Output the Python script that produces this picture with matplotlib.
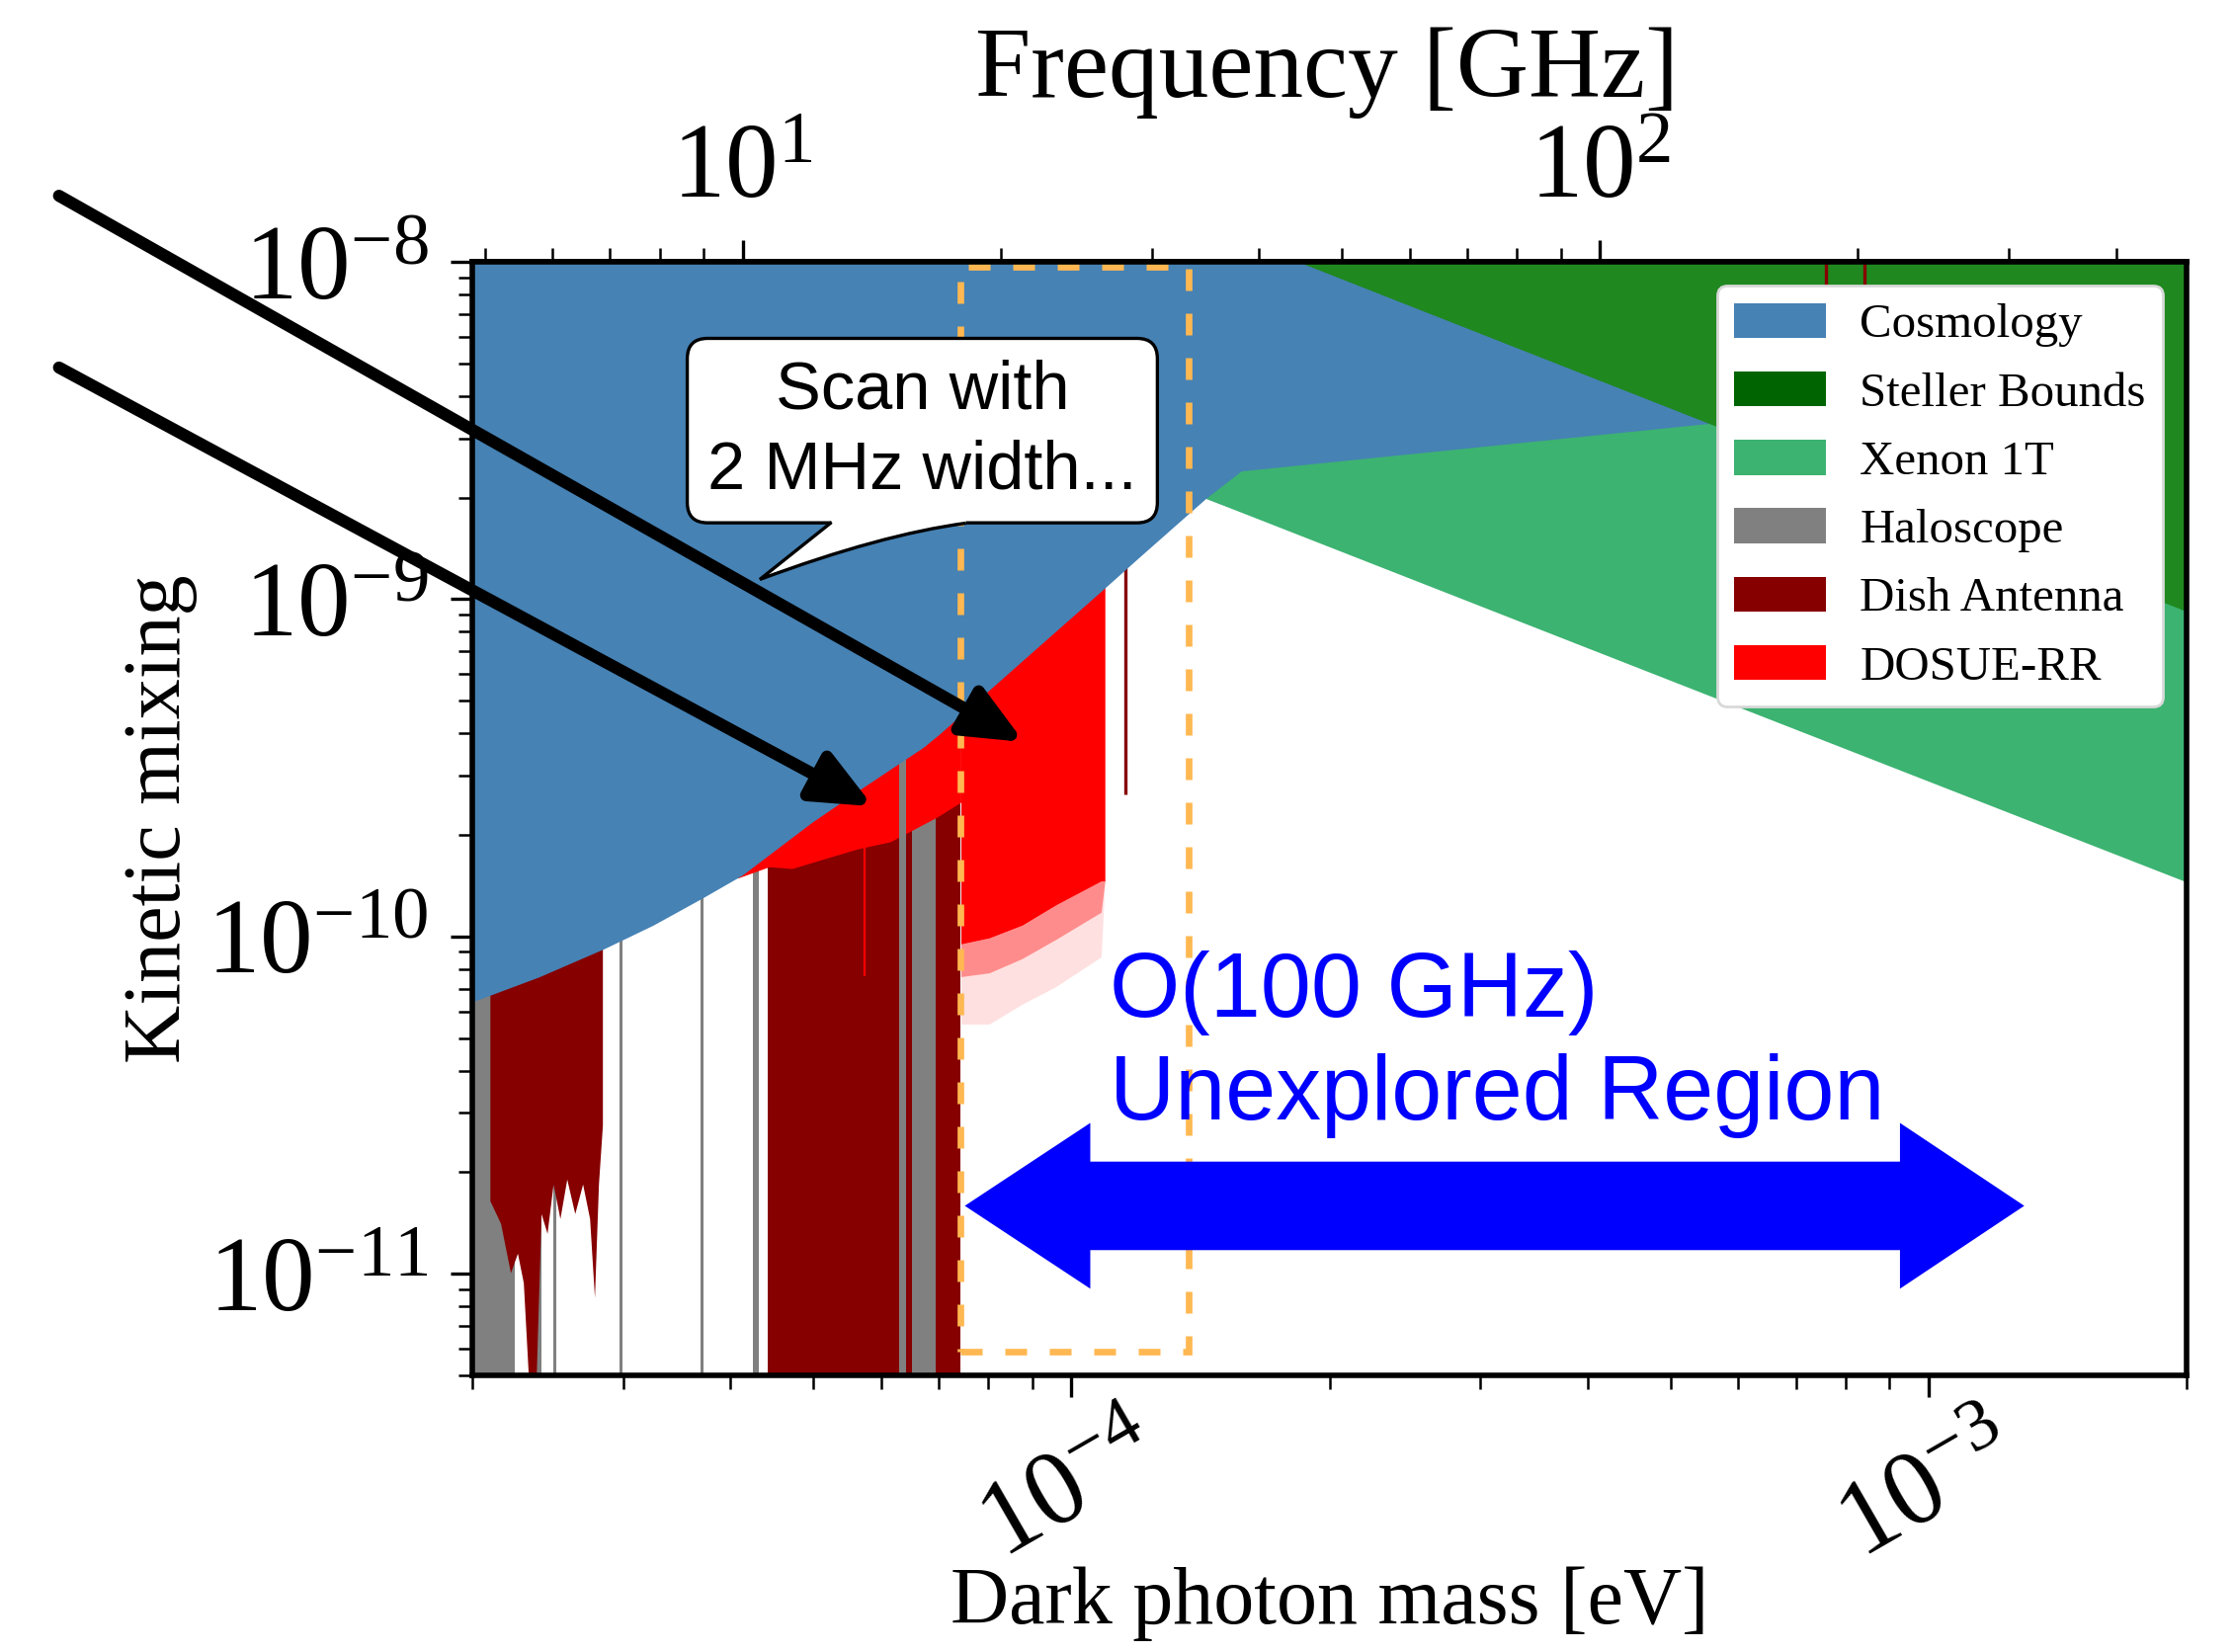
import matplotlib
matplotlib.use("Agg")
import matplotlib.pyplot as plt
from matplotlib.patches import Patch, Rectangle, PathPatch, Polygon
from matplotlib.path import Path
from matplotlib.ticker import LogLocator, NullFormatter

plt.rcParams["font.family"] = ["Liberation Serif", "DejaVu Serif"]
plt.rcParams["mathtext.fontset"] = "stix"

EV_TO_GHZ = 241798.9  # 1 eV photon -> GHz
SANS = ["Liberation Sans", "DejaVu Sans"]

# ---- data (mass in eV, kinetic mixing) ----
cosmo_mass = [2.0e-5, 2.39e-5, 2.85e-5, 3.25e-5, 3.71e-5, 4.13e-5, 4.98e-5, 5.73e-5, 6.72e-5,
              7.03e-5, 8.76e-5, 1.094e-4, 1.195e-4, 1.435e-4, 2.0e-3]
cosmo_chi = [6.4e-11, 7.58e-11, 9.2e-11, 1.08e-10, 1.30e-10, 1.52e-10, 2.18e-10, 2.78e-10, 3.64e-10,
             4.0e-10, 6.56e-10, 1.08e-9, 1.32e-9, 1.99e-9, 1.6e-10]

xenon_mass = [1.435e-4, 1.578e-4, 5.42e-4, 2.0e-3]
xenon_lo = [1.99e-9, 1.81e-9, 5.3e-10, 1.45e-10]
xenon_hi = [1.99e-9, 2.40e-9, 3.30e-9, 4.6e-9]

stellar_mass = [1.84e-4, 2.0e-3]
stellar_lo = [1.0e-8, 9.2e-10]

halo_spans = [(2.0e-5, 2.24e-5), (2.37e-5, 2.41e-5), (4.25e-5, 4.32e-5), (6.51e-5, 6.95e-5)]
halo_span_top = (6.30e-5, 6.42e-5)
halo_lines = [2.49e-5, 2.975e-5, 3.70e-5]

dishA_mass = [2.097e-5, 2.158e-5, 2.216e-5, 2.258e-5, 2.294e-5, 2.325e-5, 2.375e-5, 2.406e-5,
              2.445e-5, 2.485e-5, 2.531e-5, 2.578e-5, 2.634e-5, 2.690e-5, 2.741e-5, 2.777e-5,
              2.807e-5, 2.837e-5]
dishA_lo = [1.646e-11, 1.41e-11, 1.007e-11, 1.151e-11, 9.41e-12, 5e-12, 5e-12, 1.508e-11,
            1.318e-11, 1.845e-11, 1.458e-11, 1.908e-11, 1.508e-11, 1.845e-11, 1.458e-11, 8.51e-12,
            1.845e-11, 2.763e-11]
dish_spans = [(4.42e-5, 6.30e-5), (6.42e-5, 6.51e-5), (6.95e-5, 7.43e-5)]
dish_line_mass = [1.157e-4]
dish_line_lo = [2.64e-10]
dish_top_mass = [7.59e-4, 8.41e-4]

dosue1_mass = [4.08e-5, 4.44e-5, 4.72e-5, 5.15e-5, 5.64e-5, 6.15e-5, 6.97e-5, 7.43e-5]
dosue1_lo = [1.49e-10, 1.61e-10, 1.59e-10, 1.70e-10, 1.82e-10, 1.91e-10, 2.26e-10, 2.50e-10]
dosue2_mass = [7.43e-5, 8.02e-5, 8.76e-5, 9.59e-5, 1.083e-4, 1.094e-4]
dosue2_lo = [9.5e-11, 9.9e-11, 1.08e-10, 1.24e-10, 1.46e-10, 1.46e-10]
dosue2_fade1 = [7.6e-11, 7.8e-11, 8.6e-11, 9.8e-11, 1.18e-10, 1.46e-10]
dosue2_fade2 = [5.5e-11, 5.5e-11, 6.3e-11, 7.1e-11, 8.7e-11, 1.46e-10]
dosue_spike_mass = [5.73e-5]
dosue_spike_lo = [7.6e-11]

labels = ["Cosmology", "Steller Bounds", "Xenon 1T", "Haloscope", "Dish Antenna", "DOSUE-RR"]
colors = ["#4682B4", "#006400", "#3CB371", "#808080", "#860000", "#FF0000"]
stellar_fill = "#1f881f"

XLIM = (2.0e-5, 2.0e-3)
YLIM = (5.0e-12, 1.0e-8)

fig = plt.figure(figsize=(11.305, 8.36), dpi=200)
ax = fig.add_axes([0.2114, 0.1675, 0.7674, 0.674])
ax.set_xscale("log")
ax.set_yscale("log")
ax.set_xlim(*XLIM)
ax.set_ylim(*YLIM)

top = YLIM[1]
c_cos, c_st, c_xe, c_halo, c_dish, c_dos = colors

# haloscope
for a, b in halo_spans:
    ax.axvspan(a, b, color=c_halo, lw=0, zorder=1)
ax.axvspan(*halo_span_top, color=c_halo, lw=0, zorder=3.5)
for m in halo_lines:
    ax.axvline(m, color=c_halo, lw=1.1, zorder=1)

# dish antenna
ax.fill_between(dishA_mass, dishA_lo, top, color=c_dish, lw=0, zorder=2)
for a, b in dish_spans:
    ax.axvspan(a, b, color=c_dish, lw=0, zorder=2)
ax.vlines(dish_line_mass, dish_line_lo, top, color=c_dish, lw=1.2, zorder=2)

# DOSUE-RR
ax.fill_between(dosue1_mass, dosue1_lo, top, color=c_dos, lw=0, zorder=3)
ax.fill_between(dosue2_mass, dosue2_lo, top, color=c_dos, lw=0, zorder=3)
ax.fill_between(dosue2_mass, dosue2_fade1, dosue2_lo, color=c_dos, alpha=0.45, lw=0, zorder=3)
ax.fill_between(dosue2_mass, dosue2_fade2, dosue2_fade1, color=c_dos, alpha=0.12, lw=0, zorder=3)
ax.vlines(dosue_spike_mass, dosue_spike_lo, top, color=c_dos, lw=0.8, zorder=3)

# cosmology, xenon, stellar
ax.fill_between(cosmo_mass, cosmo_chi, top, color=c_cos, lw=0, zorder=4)
ax.fill_between(xenon_mass, xenon_lo, xenon_hi, color=c_xe, lw=0, zorder=5)
ax.fill_between(stellar_mass, stellar_lo, top, color=stellar_fill, lw=0, zorder=6)
ax.vlines(dish_top_mass, 5e-9, top, color=c_dish, lw=1.2, zorder=6.5)

# dashed box around the scanned band
box_m = (7.43e-5, 1.371e-4)
box_chi = (5.87e-12, 9.7e-9)
ax.add_patch(Rectangle((box_m[0], box_chi[0]), box_m[1] - box_m[0], box_chi[1] - box_chi[0],
                       fill=False, ec="#FFB851", lw=2.4, ls=(0, (3.3, 3.45)), zorder=7,
                       clip_on=False))

# blue double arrow (tips, head bases; shaft / head half-heights) + text
arr_x = (7.51e-5, 1.052e-4, 9.26e-4, 1.293e-3)
arr_y = (1.59e-11, 2.15e-11, 1.175e-11, 2.80e-11, 9.03e-12)
x0, x1, x2, x3 = arr_x
yc, ys_hi, ys_lo, yh_hi, yh_lo = arr_y
ax.add_patch(Polygon([(x0, yc), (x1, yh_hi), (x1, ys_hi), (x2, ys_hi), (x2, yh_hi), (x3, yc),
                      (x2, yh_lo), (x2, ys_lo), (x1, ys_lo), (x1, yh_lo)],
                     closed=True, fc="#0000FF", ec="none", zorder=8))
ax.text(1.109e-4, 2.86e-11, "O(100 GHz)\nUnexplored Region", color="#0000FF", fontsize=33,
        family=SANS, ha="left", va="baseline", linespacing=1.28, zorder=8)

# speech bubble
ax.text(6.70e-5, 3.16e-9, "Scan with\n2 MHz width...", ha="center", va="center", fontsize=24.7,
        family=SANS, linespacing=1.35, zorder=9,
        bbox=dict(boxstyle="round,pad=0.3", fc="white", ec="black", lw=1.2))
tail_l, tail_r, tail_tip, tail_ctrl = (5.25e-5, 1.69e-9), (7.53e-5, 1.68e-9), (4.33e-5, 1.144e-9), (5.99e-5, 1.554e-9)
tail_in = 1.784e-9
ax.add_patch(PathPatch(Path([(tail_l[0], tail_in), tail_l, tail_tip, tail_ctrl, tail_r,
                             (tail_r[0], tail_in), (tail_l[0], tail_in)],
                            [Path.MOVETO, Path.LINETO, Path.LINETO, Path.CURVE3, Path.CURVE3,
                             Path.LINETO, Path.CLOSEPOLY]),
                       fc="white", ec="none", zorder=9.5))
ax.add_patch(PathPatch(Path([tail_l, tail_tip, tail_ctrl, tail_r],
                            [Path.MOVETO, Path.LINETO, Path.CURVE3, Path.CURVE3]),
                       fill=False, ec="black", lw=1.2, zorder=9.6))

# black pointer arrows (start left of the axes)
for start, tip in [((6.59e-6, 1.57e-8), (8.80e-5, 3.77e-10)),
                   ((6.59e-6, 4.86e-9), (5.87e-5, 2.43e-10))]:
    ax.annotate("", xy=tip, xytext=start, annotation_clip=False,
                arrowprops=dict(arrowstyle="-|>,head_length=1.8,head_width=0.8", mutation_scale=10,
                                lw=4.4, color="black", shrinkA=0, shrinkB=0, clip_on=False),
                zorder=10)

# axes styling
for sp in ax.spines.values():
    sp.set_linewidth(2.0)
    sp.set_zorder(20)
ax.xaxis.set_major_locator(LogLocator(base=10))
ax.xaxis.set_minor_locator(LogLocator(base=10, subs=range(2, 10)))
ax.yaxis.set_major_locator(LogLocator(base=10))
ax.yaxis.set_minor_locator(LogLocator(base=10, subs=range(2, 10)))
ax.xaxis.set_minor_formatter(NullFormatter())
ax.yaxis.set_minor_formatter(NullFormatter())
ax.tick_params(which="major", length=8, width=1.2, labelsize=38.5, direction="out")
ax.tick_params(which="minor", length=5, width=0.9, direction="out")
ax.tick_params(axis="x", which="major", pad=2, labelrotation=30)
ax.tick_params(axis="y", which="major", pad=8)
ax.tick_params(top=False, right=False)

ax.set_xlabel("Dark photon mass [eV]", fontsize=29.5)
ax.xaxis.set_label_coords(0.5, -0.172)
ax.set_ylabel("Kinetic mixing", fontsize=29.5)
ax.yaxis.set_label_coords(-0.16, 0.5)

secax = ax.secondary_xaxis("top", functions=(lambda m: m * EV_TO_GHZ, lambda f: f / EV_TO_GHZ))
secax.xaxis.set_major_locator(LogLocator(base=10))
secax.xaxis.set_minor_locator(LogLocator(base=10, subs=range(2, 10)))
secax.xaxis.set_minor_formatter(NullFormatter())
secax.tick_params(which="major", length=8, width=1.2, labelsize=38.5, pad=7)
secax.tick_params(which="minor", length=5, width=0.9)
secax.spines["top"].set_linewidth(2.0)
fig.text(0.594, 0.9414, "Frequency [GHz]", fontsize=36.5, ha="center", va="baseline")

handles = [Patch(facecolor=c, edgecolor="none") for c in colors]
leg = ax.legend(handles, labels, loc="upper right", fontsize=17.6, framealpha=1, edgecolor="0.85",
                fancybox=True, borderaxespad=0.5, handlelength=1.9, handleheight=0.74,
                handletextpad=0.7, labelspacing=0.5, borderpad=0.35)
leg.set_zorder(30)

fig.savefig("out.png", dpi=200)
